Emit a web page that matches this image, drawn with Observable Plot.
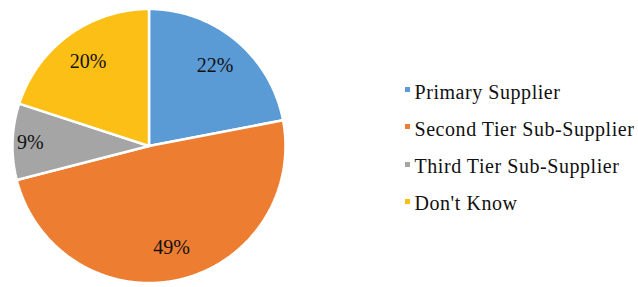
<!DOCTYPE html>
<html>
<head>
<meta charset="utf-8">
<script src="https://cdn.jsdelivr.net/npm/d3@7"></script>
<script src="https://cdn.jsdelivr.net/npm/@observablehq/plot@0.6"></script>
<style>
  html, body { margin: 0; padding: 0; background: #fff; }
  #wrap { position: relative; width: 638px; height: 287px; overflow: hidden; }
  .sw { position: absolute; left: 405px; width: 5px; height: 5px; }
  .tx { position: absolute; left: 414.5px; font-family: "Liberation Serif", "Times New Roman", serif; font-size: 20px; line-height: 1; letter-spacing: 0.55px; color: #111; white-space: nowrap; }
</style>
</head>
<body>
<div id="wrap"></div>
<script>
const categories = ["Primary Supplier", "Second Tier Sub-Supplier", "Third Tier Sub-Supplier", "Don't Know"];
const values = [22, 49, 9, 20];
const labels = ["22%", "49%", "9%", "20%"];
const colors = ["#5B9BD5", "#ED7D31", "#A5A5A5", "#FBBF16"];

const data = categories.map((c, i) => ({ name: c, value: values[i], label: labels[i] }));
const arcs = d3.pie().sort(null).value(d => d.value)(data);

// wedge outlines in unit-circle coordinates (angle measured clockwise from top)
const wedgePts = [];
for (const a of arcs) {
  const n = Math.max(2, Math.ceil((a.endAngle - a.startAngle) / 0.01));
  wedgePts.push({ name: a.data.name, x: 0, y: 0 });
  for (let k = 0; k <= n; k++) {
    const t = a.startAngle + (a.endAngle - a.startAngle) * k / n;
    wedgePts.push({ name: a.data.name, x: Math.sin(t), y: Math.cos(t) });
  }
  wedgePts.push({ name: a.data.name, x: 0, y: 0 });
}
const labelPts = arcs.map(a => {
  const m = (a.startAngle + a.endAngle) / 2;
  const r = a.data.value < 10 ? 0.87 : 0.76;
  return { label: a.data.label, x: r * Math.sin(m), y: r * Math.cos(m) };
});

const chart = Plot.plot({
  width: 638,
  height: 287,
  margin: 0,
  style: { background: "#fff", overflow: "visible" },
  x: { domain: [-1, 1], range: [12, 285], axis: null },
  y: { domain: [-1, 1], range: [282.5, 8.5], axis: null },
  color: { domain: categories, range: colors },
  marks: [
    Plot.line(wedgePts, { x: "x", y: "y", z: "name", fill: "name", stroke: "#fff", strokeWidth: 2.5, strokeLinejoin: "miter", curve: "linear" }),
    Plot.text(labelPts, { x: "x", y: "y", text: "label", fontSize: 20, fontFamily: "Liberation Serif, Times New Roman, serif", fill: "#111", style: "letter-spacing:0.5px" })
  ]
});
chart.style.position = "absolute";
chart.style.left = "0"; chart.style.top = "0";
const wrap = document.getElementById("wrap");
wrap.append(chart);

categories.forEach((c, i) => {
  const sw = document.createElement("div");
  sw.className = "sw";
  sw.style.background = colors[i];
  sw.style.top = (87 + i * 37.33) + "px";
  const tx = document.createElement("div");
  tx.className = "tx";
  tx.textContent = c;
  tx.style.top = (82 + i * 37.1) + "px";
  wrap.append(sw, tx);
});
</script>
</body>
</html>
